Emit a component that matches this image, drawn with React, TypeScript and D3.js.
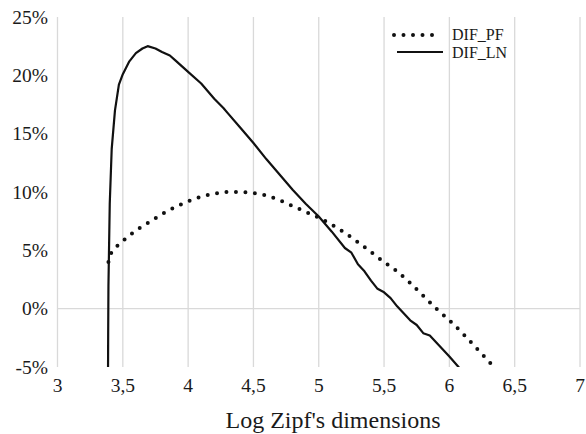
import React from 'react';
import * as d3 from 'd3';

// Log Zipf's dimension values (x) and differences in % (y)
const pfX = [3.39, 3.40, 3.42, 3.45, 3.5, 3.6, 3.7, 3.8, 3.9, 4.0, 4.1, 4.2, 4.3, 4.4, 4.5, 4.6, 4.7, 4.8, 4.9, 5.0, 5.1, 5.2, 5.3, 5.4, 5.5, 5.6, 5.7, 5.8, 5.9, 6.0, 6.1, 6.2, 6.3, 6.4];
const pfY = [4.0, 4.5, 4.9, 5.3, 5.8, 6.7, 7.4, 8.1, 8.7, 9.2, 9.6, 9.85, 10.0, 10.0, 9.9, 9.7, 9.3, 8.8, 8.3, 7.8, 7.2, 6.5, 5.7, 4.85, 4.0, 3.2, 2.2, 1.1, 0.0, -1.0, -2.1, -3.3, -4.5, -5.7];

const lnX = [3.386, 3.388, 3.39, 3.395, 3.40, 3.415, 3.44, 3.47, 3.5, 3.55, 3.6, 3.65, 3.69, 3.75, 3.8, 3.86, 3.9, 4.0, 4.1, 4.2, 4.27, 4.3, 4.4, 4.5, 4.6, 4.7, 4.8, 4.9, 5.0, 5.1, 5.2, 5.25, 5.3, 5.35, 5.4, 5.45, 5.5, 5.55, 5.6, 5.65, 5.7, 5.75, 5.8, 5.85, 5.9, 5.95, 6.0, 6.07, 6.1];
const lnY = [-8, -2, 2, 5.5, 9, 13.7, 17, 19.2, 20.1, 21.2, 21.9, 22.3, 22.5, 22.3, 22.0, 21.7, 21.3, 20.3, 19.3, 18.0, 17.2, 16.8, 15.5, 14.2, 12.8, 11.5, 10.2, 9.0, 7.9, 6.6, 5.2, 4.8, 3.8, 3.2, 2.4, 1.7, 1.4, 0.9, 0.2, -0.4, -1.0, -1.4, -2.1, -2.3, -2.9, -3.5, -4.1, -5, -5.4];

const xTicks = [3, 3.5, 4, 4.5, 5, 5.5, 6, 6.5, 7];
const yTicks = [-5, 0, 5, 10, 15, 20, 25];
const seriesNames = ['DIF_PF', 'DIF_LN'];

const W = 586;
const H = 434;
const font = '"Liberation Serif", "Times New Roman", serif';

export default function App() {
  const x = d3.scaleLinear().domain([3, 7]).range([57.5, 580]);
  const y = d3.scaleLinear().domain([-5, 25]).range([367, 17]);

  const pfPath = d3.line<[number, number]>()
    .x(d => x(d[0]))
    .y(d => y(d[1]))
    .curve(d3.curveMonotoneX)(pfX.map((v, i) => [v, pfY[i]]));
  const lnPath = d3.line<[number, number]>()
    .x(d => x(d[0]))
    .y(d => y(d[1]))(lnX.map((v, i) => [v, lnY[i]]));

  const fmt = (v: number) => String(v).replace('.', ',');

  return (
    <svg width={W} height={H} style={{ position: 'fixed', left: 0, top: 0, background: '#fff' }}>
      <defs>
        <clipPath id="plot">
          <rect x={x(3)} y={y(25) - 5} width={x(7) - x(3)} height={y(-5) - y(25) + 5} />
        </clipPath>
      </defs>
      {xTicks.map(t => (
        <line key={t} x1={x(t)} x2={x(t)} y1={y(25)} y2={y(-5)} stroke="#d9d9d9" strokeWidth={1.3} />
      ))}
      <line x1={x(3)} x2={x(7)} y1={y(0)} y2={y(0)} stroke="#d9d9d9" strokeWidth={1.3} />

      <g clipPath="url(#plot)">
        <path d={pfPath ?? ''} fill="none" stroke="#111" strokeWidth={4} strokeLinecap="round" strokeDasharray="0 9.5" />
        <path d={lnPath ?? ''} fill="none" stroke="#111" strokeWidth={2.2} strokeLinejoin="round" />
      </g>

      {yTicks.map(t => (
        <text key={t} x={48} y={y(t)} dy="0.35em" textAnchor="end" fontFamily={font} fontSize={19.5} fill="#1a1a1a">
          {t}%
        </text>
      ))}
      {xTicks.map(t => (
        <text key={t} x={x(t)} y={392} textAnchor="middle" fontFamily={font} fontSize={19.5} fill="#1a1a1a">
          {fmt(t)}
        </text>
      ))}
      <text x={333} y={428} textAnchor="middle" fontFamily={font} fontSize={24} fill="#1a1a1a">
        Log Zipf's dimensions
      </text>

      {/* legend */}
      <line x1={394} x2={434} y1={35} y2={35} stroke="#111" strokeWidth={4} strokeLinecap="round" strokeDasharray="0 9.5" />
      <line x1={397} x2={443} y1={52} y2={52} stroke="#111" strokeWidth={2} />
      {seriesNames.map((n, i) => (
        <text key={n} x={452} y={39.5 + i * 18.5} fontFamily={font} fontSize={16} fill="#1a1a1a">
          {n}
        </text>
      ))}
    </svg>
  );
}
